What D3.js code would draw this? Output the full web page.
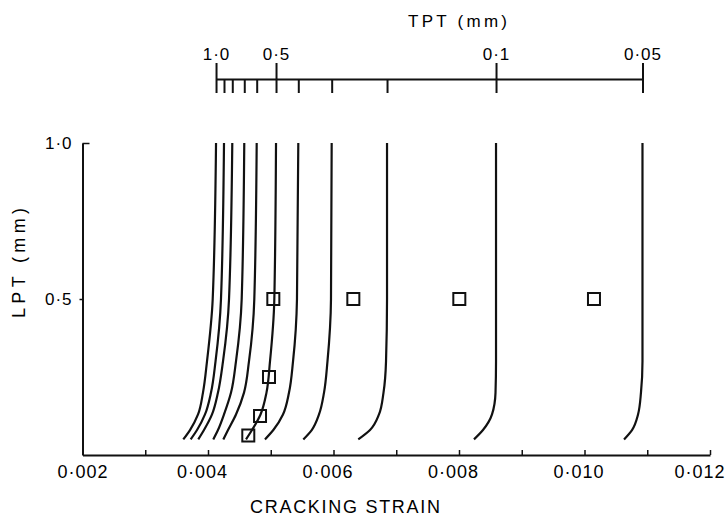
<!DOCTYPE html>
<html>
<head>
<meta charset="utf-8">
<script src="https://cdn.jsdelivr.net/npm/d3@7"></script>
<style>
    body { margin: 0; background: #fff; }
    text { font-family: "Liberation Sans", Arial, sans-serif; fill: #000; }
</style>
</head>
<body>
<div id="chart"></div>
<script>
var lptLevels = [1.0, 0.5, 0.3, 0.2, 0.13, 0.08, 0.05];

// cracking strain of each curve (one per TPT value), at the LPT levels above
var strainTpt100 = [0.004128, 0.004075, 0.003984, 0.003920, 0.003841, 0.003713, 0.003606];
var strainTpt090 = [0.004255, 0.004207, 0.004120, 0.004048, 0.003952, 0.003825, 0.003724];
var strainTpt080 = [0.004387, 0.004335, 0.004239, 0.004159, 0.004064, 0.003936, 0.003845];
var strainTpt070 = [0.004578, 0.004537, 0.004446, 0.004367, 0.004255, 0.004159, 0.004084];
var strainTpt060 = [0.004776, 0.004738, 0.004653, 0.004574, 0.004446, 0.004319, 0.004244];
var strainTpt050 = [0.005084, 0.005057, 0.004988, 0.004932, 0.004837, 0.004701, 0.004606];
var strainTpt040 = [0.005439, 0.005418, 0.005355, 0.005291, 0.005195, 0.005041, 0.004908];
var strainTpt030 = [0.005971, 0.005960, 0.005904, 0.005849, 0.005769, 0.005653, 0.005519];
var strainTpt020 = [0.006853, 0.006853, 0.006837, 0.006797, 0.006725, 0.006582, 0.006395];
var strainTpt010 = [0.008590, 0.008590, 0.008590, 0.008582, 0.008526, 0.008382, 0.008239];
var strainTpt005 = [0.010924, 0.010924, 0.010924, 0.010900, 0.010853, 0.010757, 0.010630];

var curves = [strainTpt100, strainTpt090, strainTpt080, strainTpt070, strainTpt060,
    strainTpt050, strainTpt040, strainTpt030, strainTpt020, strainTpt010, strainTpt005];

// measured points (squares)
var pointStrain = [0.005041, 0.004972, 0.004829, 0.004642, 0.006316, 0.008005, 0.010151];
var pointLpt = [0.5, 0.25, 0.125, 0.0625, 0.5, 0.5, 0.5];

// top axis: TPT values sit at the vertical part of each curve
var tptValues = [1.0, 0.9, 0.8, 0.7, 0.6, 0.5, 0.4, 0.3, 0.2, 0.1, 0.05];
var tptStrain = [0.004128, 0.004255, 0.004387, 0.004578, 0.004776, 0.005084,
    0.005439, 0.005971, 0.006853, 0.008590, 0.010924];
var tptLabels = ["1·0", "", "", "", "", "0·5", "", "", "", "0·1", "0·05"];

// bottom / left ticks
var xTickValues = [0.002, 0.003, 0.004, 0.005, 0.006, 0.007, 0.008, 0.009, 0.010, 0.011, 0.012];
var xTickLabels = ["0·002", "", "0·004", "", "0·006", "", "0·008", "", "0·010", "", "0·012"];
var yTickValues = [0.5, 1.0];
var yTickLabels = ["0·5", "1·0"];

var fontFam = "Liberation Sans, Arial, sans-serif";

var svg = d3.select("#chart").append("svg")
    .attr("width", 726)
    .attr("height", 516);

var x = d3.scaleLinear().domain([0.002, 0.012]).range([82.5, 710]);
var y = d3.scaleLinear().domain([0, 1]).range([455, 143]);

//bottom axis
var xAxis = svg.append("g")
    .attr("transform", "translate(0,455)")
    .call(d3.axisBottom(x)
        .tickValues(xTickValues)
        .tickFormat(function (d, i) { return xTickLabels[i]; })
        .tickSizeInner(-5)
        .tickSizeOuter(0)
        .tickPadding(10))
    .attr("font-family", fontFam)
    .attr("font-size", 18);
xAxis.select(".domain").attr("stroke", "#111").attr("stroke-width", 2);
xAxis.selectAll(".tick line").attr("stroke", "#111").attr("stroke-width", 1.5);
xAxis.selectAll(".tick text")
    .attr("fill", "#000")
    .style("letter-spacing", "1px")
    .attr("dx", function (d, i) { return i === 0 ? 0 : -6; });
// last label would run off the edge
xAxis.selectAll(".tick text")
    .filter(function (d) { return d === 0.012; })
    .attr("text-anchor", "end")
    .attr("dx", 15);

//left axis
var yAxis = svg.append("g")
    .attr("transform", "translate(82.5,0)")
    .call(d3.axisLeft(y)
        .tickValues(yTickValues)
        .tickFormat(function (d, i) { return yTickLabels[i]; })
        .tickSizeInner(3)
        .tickSizeOuter(0)
        .tickPadding(7))
    .attr("font-family", fontFam)
    .attr("font-size", 17);
yAxis.select(".domain").attr("stroke", "#111").attr("stroke-width", 2);
yAxis.selectAll(".tick line")
    .attr("stroke", "#111")
    .attr("stroke-width", 1.5)
    .attr("x2", function (d) { return d === 1.0 ? 7 : -3; });
yAxis.selectAll(".tick text").attr("fill", "#000").style("letter-spacing", "1px");

//top axis (TPT)
var xTop = d3.scaleLinear()
    .domain([tptStrain[0], tptStrain[tptStrain.length - 1]])
    .range([x(tptStrain[0]), x(tptStrain[tptStrain.length - 1])]);

var topAxis = svg.append("g")
    .attr("transform", "translate(0,79)")
    .call(d3.axisTop(xTop)
        .tickValues(tptStrain)
        .tickFormat(function (d, i) { return tptLabels[i]; })
        .tickSizeInner(16)
        .tickSizeOuter(0)
        .tickPadding(3))
    .attr("font-family", fontFam)
    .attr("font-size", 17);
topAxis.select(".domain").attr("stroke", "#111").attr("stroke-width", 2);
topAxis.selectAll(".tick line")
    .attr("stroke", "#111")
    .attr("stroke-width", 2)
    .attr("y1", function (d, i) { return tptLabels[i] ? 14 : 0; })
    .attr("y2", function (d, i) { return tptLabels[i] ? -16 : 14; });
topAxis.selectAll(".tick text").attr("fill", "#000").style("letter-spacing", "1px");

//curves
var line = d3.line()
    .x(function (d) { return x(d[0]); })
    .y(function (d) { return y(d[1]); })
    .curve(d3.curveMonotoneY);

svg.selectAll(".curve")
    .data(curves)
    .enter()
    .append("path")
    .attr("class", "curve")
    .attr("d", function (c) {
        return line(c.map(function (s, i) { return [s, lptLevels[i]]; }));
    })
    .style("fill", "none")
    .style("stroke", "#111")
    .style("stroke-width", 2.2);

//squares
var sq = 12;
svg.selectAll(".pt")
    .data(pointStrain)
    .enter()
    .append("rect")
    .attr("class", "pt")
    .attr("x", function (d) { return x(d) - sq / 2; })
    .attr("y", function (d, i) { return y(pointLpt[i]) - sq / 2; })
    .attr("width", sq)
    .attr("height", sq)
    .style("fill", "none")
    .style("stroke", "#111")
    .style("stroke-width", 2);

//titles
svg.append("text")
    .attr("x", 408)
    .attr("y", 27)
    .attr("font-size", 17)
    .attr("textLength", 99)
    .attr("lengthAdjust", "spacing")
    .text("TPT (mm)");

svg.append("text")
    .attr("x", 250)
    .attr("y", 513)
    .attr("font-size", 18)
    .attr("textLength", 190)
    .attr("lengthAdjust", "spacing")
    .text("CRACKING  STRAIN");

svg.append("text")
    .attr("transform", "translate(25,318) rotate(-90)")
    .attr("font-size", 18)
    .attr("textLength", 110)
    .attr("lengthAdjust", "spacing")
    .text("LPT (mm)");
</script>
</body>
</html>
